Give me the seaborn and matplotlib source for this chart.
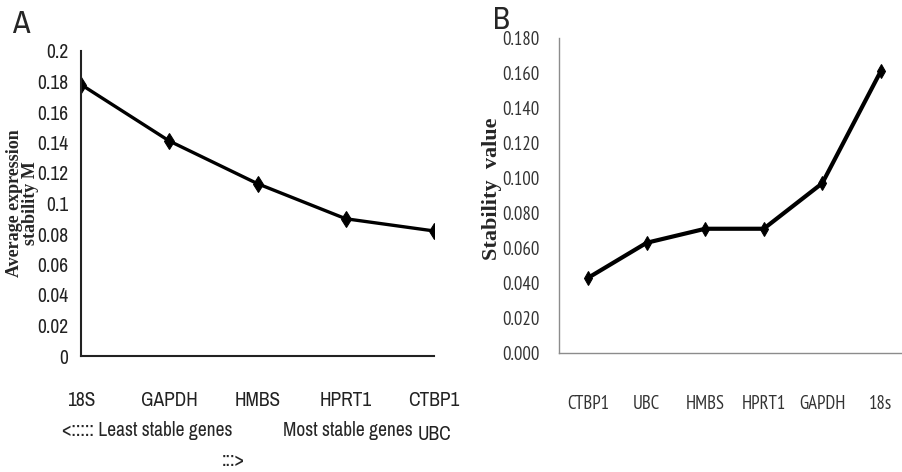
import matplotlib
matplotlib.use("Agg")
import matplotlib.pyplot as plt
import seaborn as sns
from matplotlib.ticker import FixedLocator, FormatStrFormatter

# geNorm (A) et NormFinder (B)
genes_a = ["18S", "GAPDH", "HMBS", "HPRT1", "CTBP1\nUBC"]
m_a = [0.178, 0.141, 0.113, 0.090, 0.082]
yticks_a = [0, 0.02, 0.04, 0.06, 0.08, 0.1, 0.12, 0.14, 0.16, 0.18, 0.2]

genes_b = ["CTBP1", "UBC", "HMBS", "HPRT1", "GAPDH", "18s"]
stab_b = [0.043, 0.063, 0.071, 0.071, 0.097, 0.161]
yticks_b = [0, 0.02, 0.04, 0.06, 0.08, 0.1, 0.12, 0.14, 0.16, 0.18]

sns.set_style("white")
NARROW = ["Archivo Narrow", "DejaVu Sans"]
NARROW_B = ["PT Sans Narrow", "DejaVu Sans"]
SERIF = ["Liberation Serif", "DejaVu Serif"]
plt.rcParams["font.family"] = NARROW

fig = plt.figure(figsize=(9.02, 4.72), dpi=100)

# ---- Panel A ----
ax1 = fig.add_axes([81 / 902, 1 - 356 / 472, 353 / 902, 305 / 472])
sns.lineplot(x=list(range(len(genes_a))), y=m_a, ax=ax1, color="black",
             linewidth=2.4, marker="d", markersize=8, markeredgecolor="black")
ax1.set_xlim(0, 4)
ax1.set_ylim(0, 0.2)
ax1.set_xticks(range(len(genes_a)))
ax1.set_xticklabels(genes_a, linespacing=2.0)
ax1.set_yticks(yticks_a)
ax1.yaxis.set_major_formatter(FormatStrFormatter("%g"))
ax1.tick_params(axis="y", direction="in", length=5, width=1.2, pad=9, labelsize=14, colors="#222222")
ax1.tick_params(axis="x", direction="in", length=7, width=1.2, pad=25, labelsize=14, colors="#222222")
for s in ["top", "right"]:
    ax1.spines[s].set_visible(False)
for s in ["left", "bottom"]:
    ax1.spines[s].set_color("#222222")
    ax1.spines[s].set_linewidth(1.5)
ax1.set_ylabel("Average expression\nstability M", fontsize=13, fontweight="bold",
               family=SERIF, linespacing=0.95)
ax1.yaxis.set_label_coords((39 - 81) / 353, 0.5)

fig.text(12 / 902, 1 - 24 / 472, "A", fontsize=23, va="center", ha="left")
fig.text(62 / 902, 1 - 430 / 472, "<::::: Least stable genes", fontsize=14, va="center", ha="left")
fig.text(283 / 902, 1 - 430 / 472, "Most stable genes", fontsize=14, va="center", ha="left")
fig.text(222 / 902, 1 - 460 / 472, ":::>", fontsize=14, va="center", ha="left")

# ---- Panel B ----
ax2 = fig.add_axes([559 / 902, 1 - 353 / 472, 351 / 902, 315 / 472])
sns.lineplot(x=list(range(len(genes_b))), y=stab_b, ax=ax2, color="black",
             linewidth=3.0, marker="d", markersize=7, markeredgecolor="black")
ax2.set_xlim(-0.5, len(genes_b) - 0.5)
ax2.set_ylim(0, 0.18)
ax2.set_xticks(range(len(genes_b)))
ax2.set_xticklabels(genes_b, family=NARROW_B)
ax2.xaxis.set_minor_locator(FixedLocator([i - 0.5 for i in range(len(genes_b) + 1)]))
ax2.set_yticks(yticks_b)
ax2.set_yticklabels([f"{v:.3f}" for v in yticks_b], family=NARROW_B)
ax2.tick_params(axis="x", which="major", length=0, pad=30, labelsize=13.5, colors="#333333")
ax2.tick_params(axis="x", which="minor", direction="out", length=7, width=1, color="#8c8c8c")
ax2.tick_params(axis="y", direction="out", length=4, width=1, pad=10, labelsize=13.5,
                color="#8c8c8c", labelcolor="#333333")
for s in ["top", "right"]:
    ax2.spines[s].set_visible(False)
for s in ["left", "bottom"]:
    ax2.spines[s].set_color("#8c8c8c")
    ax2.spines[s].set_linewidth(1.0)
ax2.set_ylabel("Stability  value", fontsize=16, fontweight="bold", family=SERIF)
ax2.yaxis.set_label_coords((502 - 559) / 351, 0.52)

fig.text(493 / 902, 1 - 20 / 472, "B", fontsize=22, va="center", ha="left")

fig.savefig("out.png", dpi=100)
